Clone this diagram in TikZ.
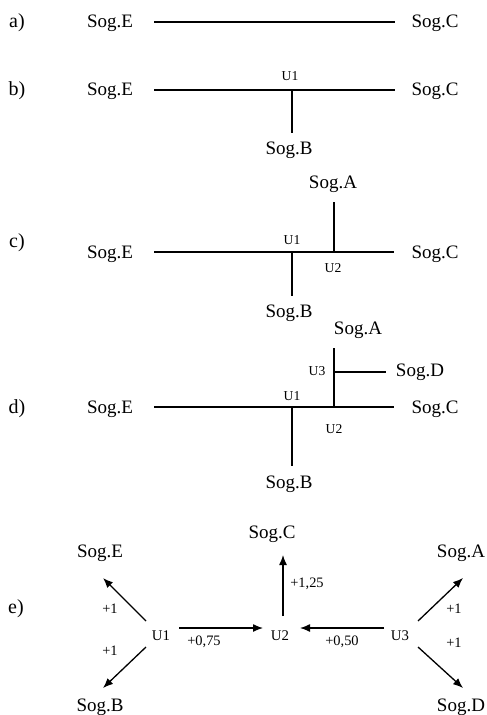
\documentclass[tikz,border=0pt]{standalone}
\usepackage{fontspec}
\setmainfont{Liberation Serif}
\usetikzlibrary{arrows.meta}

\begin{document}
\begin{tikzpicture}[x=0.5pt,y=-0.5pt,
  sog/.style={anchor=base,font=\fontsize{9.5}{11}\selectfont},
  tag/.style={anchor=base,font=\fontsize{10}{12}\selectfont},
  knot/.style={anchor=base,font=\fontsize{6.8}{8}\selectfont},
  eknot/.style={anchor=base,font=\fontsize{7.4}{9}\selectfont},
  wt/.style={anchor=base,font=\fontsize{7.2}{9}\selectfont},
  link/.style={line width=0.65pt},
  flow/.style={line width=0.65pt,-{Latex[length=5pt,width=4pt]}}]
  \useasboundingbox (0,0) rectangle (486,715);

  \node[tag] (ta) at (17,28) {a)};
  \node[sog] (aSE) at (110,28) {Sog.E};
  \node[sog] (aSC) at (435,28) {Sog.C};
  \coordinate (aL) at (154,22);
  \coordinate (aR) at (395,22);
  \draw[link] (aL) -- (aR);

  \node[tag] (tb) at (17,96) {b)};
  \node[sog] (bSE) at (110,96) {Sog.E};
  \node[sog] (bSC) at (435,96) {Sog.C};
  \node[sog] (bSB) at (289,155) {Sog.B};
  \node[knot] (bU1) at (290,81) {U1};
  \coordinate (bL) at (154,90);
  \coordinate (bR) at (395,90);
  \coordinate (bJ1) at (292,90);
  \coordinate (bBt) at (292,133);
  \draw[link] (bL) -- (bR);
  \draw[link] (bJ1) -- (bBt);

  \node[tag] (tc) at (17,248) {c)};
  \node[sog] (cSE) at (110,259) {Sog.E};
  \node[sog] (cSC) at (435,259) {Sog.C};
  \node[sog] (cSA) at (333,189) {Sog.A};
  \node[sog] (cSB) at (289,318) {Sog.B};
  \node[knot] (cU1) at (292,245) {U1};
  \node[knot] (cU2) at (333,273) {U2};
  \coordinate (cL) at (154,252);
  \coordinate (cR) at (394,252);
  \coordinate (cJ1) at (292,252);
  \coordinate (cJ2) at (334,252);
  \coordinate (cAt) at (334,202);
  \coordinate (cBt) at (292,296);
  \draw[link] (cL) -- (cR);
  \draw[link] (cJ1) -- (cBt);
  \draw[link] (cJ2) -- (cAt);

  \node[tag] (td) at (17,413) {d)};
  \node[sog] (dSE) at (110,413) {Sog.E};
  \node[sog] (dSC) at (435,413) {Sog.C};
  \node[sog] (dSA) at (358,335) {Sog.A};
  \node[sog] (dSD) at (420,376) {Sog.D};
  \node[sog] (dSB) at (289,488) {Sog.B};
  \node[knot] (dU1) at (292,400) {U1};
  \node[knot] (dU2) at (334,433) {U2};
  \node[knot] (dU3) at (317,375) {U3};
  \coordinate (dL) at (154,407);
  \coordinate (dR) at (394,407);
  \coordinate (dJ1) at (292,407);
  \coordinate (dJ2) at (334,407);
  \coordinate (dJ3) at (334,372);
  \coordinate (dAt) at (334,348);
  \coordinate (dDt) at (386,372);
  \coordinate (dBt) at (292,466);
  \draw[link] (dL) -- (dR);
  \draw[link] (dJ1) -- (dBt);
  \draw[link] (dJ2) -- (dAt);
  \draw[link] (dJ3) -- (dDt);

  \node[tag] (te) at (16,613) {e)};
  \node[sog] (eSE) at (100,557) {Sog.E};
  \node[sog] (eSB) at (100,711) {Sog.B};
  \node[sog] (eSC) at (272,538) {Sog.C};
  \node[sog] (eSA) at (461,557) {Sog.A};
  \node[sog] (eSD) at (461,711) {Sog.D};
  \node[eknot] (eU1) at (161,640) {U1};
  \node[eknot] (eU2) at (280,640) {U2};
  \node[eknot] (eU3) at (400,640) {U3};
  \coordinate (e1a) at (146,621);
  \coordinate (e1b) at (146,647);
  \coordinate (e1c) at (179,628);
  \coordinate (e2a) at (263,628);
  \coordinate (e2b) at (300,628);
  \coordinate (e2c) at (283,616);
  \coordinate (eCt) at (283,555);
  \coordinate (e3a) at (384,628);
  \coordinate (e3b) at (418,621);
  \coordinate (e3c) at (418,647);
  \coordinate (eEt) at (103,578);
  \coordinate (eBt) at (103,688);
  \coordinate (eAt) at (463,578);
  \coordinate (eDt) at (463,688);
  \draw[flow] (e1a) -- (eEt);
  \draw[flow] (e1b) -- (eBt);
  \draw[flow] (e1c) -- (e2a);
  \draw[flow] (e2c) -- (eCt);
  \draw[flow] (e3a) -- (e2b);
  \draw[flow] (e3b) -- (eAt);
  \draw[flow] (e3c) -- (eDt);
  \node[wt] (w1) at (110,613) {+1};
  \node[wt] (w2) at (110,655) {+1};
  \node[wt] (w3) at (204,645) {+0,75};
  \node[wt] (w4) at (307,587) {+1,25};
  \node[wt] (w5) at (342,645) {+0,50};
  \node[wt] (w6) at (454,613) {+1};
  \node[wt] (w7) at (454,647) {+1};
\end{tikzpicture}
\end{document}
